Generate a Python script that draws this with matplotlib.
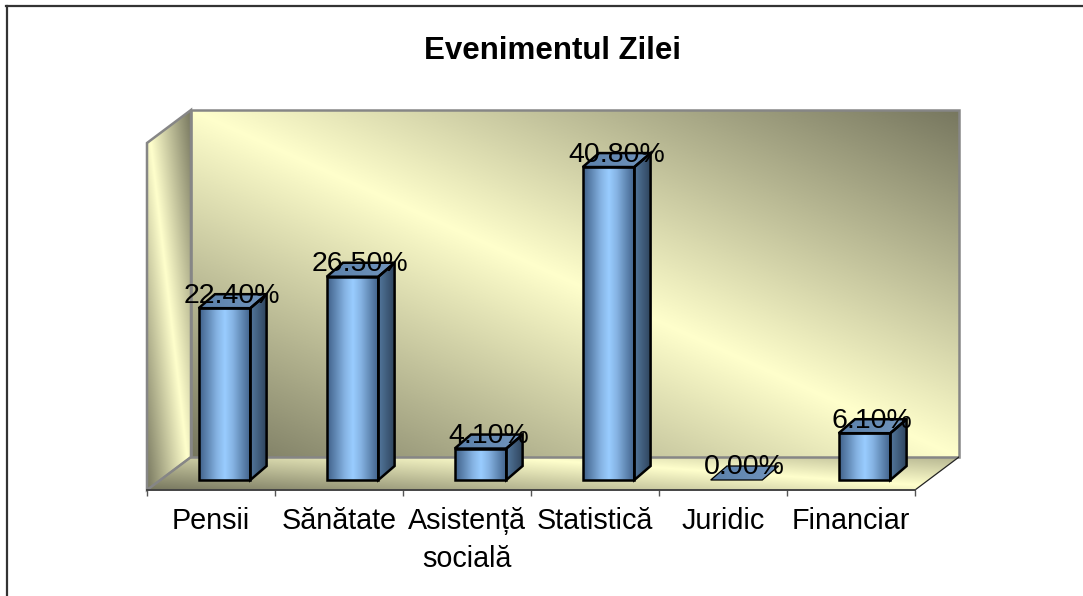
import numpy as np
import matplotlib
matplotlib.use("Agg")
import matplotlib.pyplot as plt
from matplotlib.colors import LinearSegmentedColormap
from matplotlib.lines import Line2D
from matplotlib.patches import Polygon

plt.rcParams['font.family'] = ['Liberation Sans', 'DejaVu Sans']

title = "Evenimentul Zilei"
categories = ["Pensii", "Sănătate", "Asistență\nsocială", "Statistică", "Juridic", "Financiar"]
values = [22.4, 26.5, 4.1, 40.8, 0.0, 6.1]
value_labels = ["22.40%", "26.50%", "4.10%", "40.80%", "0.00%", "6.10%"]

W, H = 1083, 596
PX_X = 128.0           # pixels per category
PX_Y = 7.67            # pixels per percent
fig = plt.figure(figsize=(W / 100, H / 100), dpi=100, facecolor="white")

# axes box in pixels: floor front-left (147,490) to wall top-right (959,110)
L, R, T, B = 147, 959, 110, 490
ax = fig.add_axes([L / W, 1 - B / H, (R - L) / W, (B - T) / H])
ax.patch.set_alpha(0)
BASE = 10 / PX_Y       # floor front lies below value 0
x0, x1 = -0.5, -0.5 + (R - L) / PX_X
y0, y1 = -BASE, -BASE + (B - T) / PX_Y


def px(dx, dy=0.0):
    return dx / PX_X, dy / PX_Y


wall_cmap = LinearSegmentedColormap.from_list(
    "wall", [(0, "#77775f"), (0.5, "#ffffcc"), (1, "#77775f")])
front_cmap = LinearSegmentedColormap.from_list(
    "front", [(0, "#3f6088"), (0.35, "#86b4e4"), (0.5, "#99ccff"),
              (0.65, "#86b4e4"), (1, "#3f6088")])
side_cmap = LinearSegmentedColormap.from_list("side", ["#54789e", "#2e445c"])
top_cmap = LinearSegmentedColormap.from_list("top", ["#5b80aa", "#7195bd"])


def fill(verts, cmap, mode, z):
    verts = np.asarray(verts, float)
    xa, xb = verts[:, 0].min(), verts[:, 0].max()
    ya, yb = verts[:, 1].min(), verts[:, 1].max()
    u = np.linspace(0, 1, 256)
    uu, vv = np.meshgrid(u, u)
    t = {"diag": (uu + vv) / 2, "h": uu, "floor": 0.48 * uu + 0.3 * vv}[mode]
    im = ax.imshow(t, cmap=cmap, vmin=0, vmax=1, origin="lower",
                   extent=(xa, xb, ya, yb), aspect="auto", zorder=z,
                   interpolation="bilinear")
    im.set_clip_path(Polygon(verts, transform=ax.transData))


wd, wh = px(44, 33)
back = [(x0 + wd, y0 + wh), (x1, y0 + wh), (x1, y1), (x0 + wd, y1)]
left = [(x0, y0), (x0 + wd, y0 + wh), (x0 + wd, y1), (x0, y1 - wh)]
floor = [(x0, y0), (x1 - wd, y0), (x1, y0 + wh), (x0 + wd, y0 + wh)]
fill(back, wall_cmap, "diag", 1)
fill(left, wall_cmap, "diag", 1)
fill(floor, wall_cmap, "floor", 1)
for poly in (back, left):
    ax.add_patch(Polygon(poly, closed=True, fill=False, edgecolor="#868686",
                         lw=1.8, zorder=2, clip_on=False))
ax.plot([x0, x0 + wd], [y0, y0 + wh], color="#868686", lw=1.2, zorder=2)
ax.plot([x1 - wd, x1], [y0, y0 + wh], color="#222222", lw=0.9, zorder=2)

off, _ = px(13.5)
hw, _ = px(25.8)
dx, dy = px(16.3, 14)
for i, (v, lab) in enumerate(zip(values, value_labels)):
    a, b = i + off - hw, i + off + hw
    front = [(a, 0), (b, 0), (b, v), (a, v)]
    side = [(b, 0), (b + dx, dy), (b + dx, v + dy), (b, v)]
    top = [(a, v), (b, v), (b + dx, v + dy), (a + dx, v + dy)]
    lw = 1.8 if v > 0 else 0.9
    if v > 0:
        fill(front, front_cmap, "h", 3)
        fill(side, side_cmap, "h", 3)
    fill(top, top_cmap, "h", 3)
    for poly in ([front, side] if v > 0 else []) + [top]:
        ax.add_patch(Polygon(poly, closed=True, fill=False, edgecolor="black",
                             lw=lw, zorder=4, joinstyle="miter"))
    ax.annotate(lab, xy=(i + off, v), xytext=(5.6, 4.0), textcoords="offset points",
                ha="center", va="baseline", fontsize=20.5, color="black", zorder=6)

ax.set_xlim(x0, x1)
ax.set_ylim(y0, y1)
for s in ("top", "left", "right"):
    ax.spines[s].set_visible(False)
ax.spines["bottom"].set_bounds(-0.5, 5.5)
ax.spines["bottom"].set_color("#444444")
ax.spines["bottom"].set_linewidth(1.4)
ax.spines["bottom"].set_zorder(5)
ax.set_yticks([])
ax.set_xticks(np.arange(len(categories)), categories)
ax.set_xticks(np.arange(len(categories) + 1) - 0.5, minor=True)
ax.tick_params(axis="x", which="major", length=0, pad=12.5, labelsize=20.7, labelcolor="black")
ax.tick_params(axis="x", which="minor", length=4.5, width=1, color="#555555")
for t in ax.get_xticklabels():
    t.set_linespacing(1.42)

fig.text(552 / W, 1 - 59 / H, title, ha="center", va="baseline",
         fontsize=22.5, fontweight="bold", color="black")

fig.add_artist(Line2D([6.5 / W, 6.5 / W], [0, 1 - 5.5 / H], color="#333333", lw=1.6))
fig.add_artist(Line2D([6 / W, 1], [1 - 5.5 / H, 1 - 5.5 / H], color="#333333", lw=1.6))

fig.savefig("out.png", dpi=100)
